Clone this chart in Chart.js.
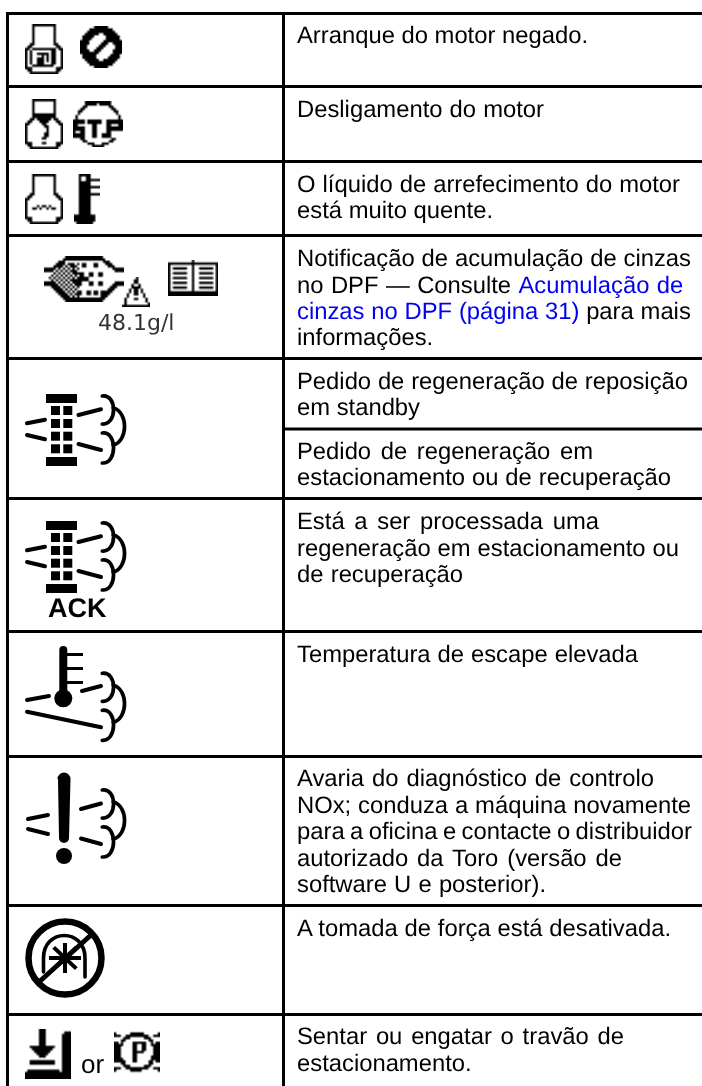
<!DOCTYPE html>
<html>
<head>
<meta charset="utf-8">
<style>
body { margin: 0; background: #fff; }
canvas { display: block; }
</style>
<script src="https://cdn.jsdelivr.net/npm/chart.js@4"></script>
</head>
<body>
<canvas id="table" width="702" height="1086"></canvas>
<script>
// table rules
var columnEdges = [7, 283];
var rowRules = [13, 86, 161, 235, 358, 498, 631, 756, 905, 1014];
var splitRuleY = [429, 429];
var splitRuleX = [283, 702];

// right column text, one entry per printed line
var lineTexts = [
  'Arranque do motor negado.',
  'Desligamento do motor',
  'O líquido de arrefecimento do motor',
  'está muito quente.',
  'Notificação de acumulação de cinzas',
  'no DPF — Consulte Acumulação de',
  'cinzas no DPF (página 31) para mais',
  'informações.',
  'Pedido de regeneração de reposição',
  'em standby',
  'Pedido de regeneração em',
  'estacionamento ou de recuperação',
  'Está a ser processada uma',
  'regeneração em estacionamento ou',
  'de recuperação',
  'Temperatura de escape elevada',
  'Avaria do diagnóstico de controlo',
  'NOx; conduza a máquina novamente',
  'para a oficina e contacte o distribuidor',
  'autorizado da Toro (versão de',
  'software U e posterior).',
  'A tomada de força está desativada.',
  'Sentar ou engatar o travão de',
  'estacionamento.'
];
var lineBaselines = [43,117,192,218,266,293,319,345,389,415,459,485,529,556,582,662,786,813,839,866,892,936,1044,1071];
var lineEnds = [588,544,680,493,691,682,691,432,688,420,593,671,599,679,463,638,654,691,692,622,546,671,624,472];
var linkLines = [5, 6];
var linkTexts = ['Acumulação de', 'cinzas no DPF (página 31)'];

// icons in the left column
var iconX = [44, 101, 44, 98, 44, 87, 84, 136, 193, 76, 76, 76, 76, 65, 48, 137];
var iconY = [49, 47, 124, 124, 199, 199, 279, 292, 278, 430, 557, 694, 818, 958, 1054, 1052];
var iconLabels = ['48.1g/l', 'ACK', 'or'];
var iconLabelX = [98, 48, 81];
var iconLabelY = [330, 617, 1073];

function fr(c, x, y, w, h) { c.fillRect(x, y, w, h); }

// draw on a tiny canvas, cut to 1 bit, then blow it up so it looks like the display bitmaps
function pixIcon(w, h, draw) {
  var low = document.createElement('canvas');
  low.width = w; low.height = h;
  var c = low.getContext('2d');
  c.fillStyle = '#000'; c.strokeStyle = '#000';
  draw(c);
  var img = c.getImageData(0, 0, w, h);
  for (var i = 0; i < img.data.length; i += 4) {
    var on = img.data[i + 3] >= 110;
    img.data[i] = img.data[i + 1] = img.data[i + 2] = 0;
    img.data[i + 3] = on ? 255 : 0;
  }
  c.putImageData(img, 0, 0);
  var big = document.createElement('canvas');
  big.width = Math.round(w * 7 / 6) * 2;
  big.height = Math.round(h * 7 / 6) * 2;
  var b = big.getContext('2d');
  b.imageSmoothingEnabled = true;
  b.drawImage(low, 0, 0, big.width, big.height);
  return big;
}

function vecIcon(w, h, ox, oy, draw) {
  var cv = document.createElement('canvas');
  cv.width = w; cv.height = h;
  var c = cv.getContext('2d');
  c.translate(-ox, -oy);
  c.fillStyle = '#000'; c.strokeStyle = '#000';
  c.lineCap = 'round';
  draw(c);
  return cv;
}

function bottle(c) {
  fr(c, 3, 0, 10, 1); fr(c, 3, 0, 1, 8); fr(c, 12, 0, 1, 8);
  fr(c, 2, 8, 2, 1); fr(c, 12, 8, 2, 1);
  fr(c, 1, 9, 2, 1); fr(c, 13, 9, 2, 1);
  fr(c, 0, 10, 2, 1); fr(c, 14, 10, 2, 1);
  fr(c, 0, 10, 1, 9); fr(c, 15, 10, 1, 9);
  fr(c, 1, 18, 2, 2); fr(c, 13, 18, 2, 2);
  fr(c, 2, 20, 12, 1);
}

var icons = [
  pixIcon(16, 21, function (c) {
    bottle(c);
    fr(c, 3, 10, 9, 1); fr(c, 2, 11, 1, 6); fr(c, 11, 10, 2, 7); fr(c, 3, 17, 9, 1);
    fr(c, 5, 12, 5, 1); fr(c, 9, 12, 1, 4); fr(c, 5, 14, 3, 3); fr(c, 7, 13, 1, 2);
  }),
  pixIcon(18, 18, function (c) {
    c.lineWidth = 3.2;
    c.beginPath(); c.arc(9, 9, 7.4, 0, Math.PI * 2); c.stroke();
    c.lineWidth = 2.6;
    c.beginPath(); c.moveTo(4, 14); c.lineTo(14, 4); c.stroke();
  }),
  pixIcon(16, 21, function (c) {
    bottle(c);
    fr(c, 4, 6, 8, 2); fr(c, 5, 8, 6, 1); fr(c, 6, 9, 4, 1); fr(c, 7, 10, 2, 1);
    fr(c, 8, 11, 2, 1); fr(c, 9, 12, 1, 2); fr(c, 8, 14, 2, 2); fr(c, 7, 16, 2, 1); fr(c, 7, 18, 2, 1);
  }),
  pixIcon(21, 20, function (c) {
    c.lineWidth = 1.1;
    c.beginPath(); c.arc(10.5, 10, 9.4, 0, Math.PI * 2); c.stroke();
    fr(c, 5, 0, 11, 1);
    fr(c, 0, 8, 5, 8); c.clearRect(2, 10, 3, 1); c.clearRect(1, 13, 2, 1);
    fr(c, 6, 8, 6, 2); fr(c, 8, 8, 2, 8);
    fr(c, 12, 14, 2, 2);
    fr(c, 14, 8, 7, 8); c.clearRect(16, 10, 3, 1); c.clearRect(16, 13, 5, 3);
  }),
  pixIcon(16, 21, function (c) {
    bottle(c);
    fr(c, 3, 14, 2, 1); fr(c, 5, 13, 1, 1); fr(c, 6, 14, 1, 1); fr(c, 7, 13, 2, 1);
    fr(c, 9, 14, 1, 1); fr(c, 10, 13, 1, 1); fr(c, 11, 14, 2, 1);
  }),
  pixIcon(11, 21, function (c) {
    fr(c, 2, 0, 5, 17); c.clearRect(3, 1, 2, 2);
    fr(c, 7, 2, 4, 1); fr(c, 7, 5, 4, 1); fr(c, 7, 8, 4, 1);
    fr(c, 0, 17, 9, 3); fr(c, 1, 20, 7, 1);
  }),
  pixIcon(34, 20, function (c) {
    c.lineWidth = 1.6;
    c.beginPath(); c.moveTo(0, 6); c.lineTo(3, 6); c.lineTo(10, 1); c.lineTo(24, 1); c.lineTo(31, 6); c.lineTo(34, 6); c.stroke();
    c.beginPath(); c.moveTo(0, 12); c.lineTo(3, 12); c.lineTo(10, 19); c.lineTo(24, 19); c.lineTo(31, 12); c.lineTo(34, 12); c.stroke();
    for (var y = 3; y < 18; y++) {
      for (var x = 9 - Math.min(y, 18 - y) + 1; x < 15; x++) {
        if ((x + y) % 2) fr(c, x, y, 1, 1);
      }
    }
    [[11, 3], [16, 3], [21, 3], [12, 6], [15, 7], [19, 7], [23, 7], [14, 11], [19, 11], [23, 11], [14, 15], [18, 15], [21, 15], [24, 15]].forEach(function (d) { fr(c, d[0], d[1], 2, 2); });
    fr(c, 15, 9, 4, 2); fr(c, 12, 10, 4, 2);
  }),
  pixIcon(12, 13, function (c) {
    // thin triangle, set pixel by pixel so it does not clog up
    for (var i = 0; i < 12; i++) {
      var half = i / 2.2;
      fr(c, Math.round(5.5 - half), i, 1, 1);
      fr(c, Math.round(5.5 + half), i, 1, 1);
    }
    fr(c, 0, 12, 12, 1);
    fr(c, 5, 4, 2, 4); fr(c, 5, 9, 2, 1);
  }),
  pixIcon(21, 15, function (c) {
    fr(c, 0, 1, 10, 1); fr(c, 11, 1, 10, 1); fr(c, 0, 1, 1, 14); fr(c, 20, 1, 1, 14);
    fr(c, 10, 0, 1, 15); fr(c, 0, 13, 21, 2);
    for (var y = 3; y < 12; y += 2) {
      fr(c, 2, y, 6, 1); fr(c, 13, y, 6, 1);
    }
  }),
  // exhaust request
  exhaustIcon(),
  exhaustIcon(),
  // high exhaust temperature
  vecIcon(106, 100, 23, 644, function (c) {
    c.lineWidth = 8; c.beginPath(); c.moveTo(63.3, 650); c.lineTo(63.3, 696); c.stroke();
    c.beginPath(); c.arc(63.3, 698.3, 9, 0, Math.PI * 2); c.fill();
    fr(c, 67, 653, 16, 3); fr(c, 67, 667, 16, 3); fr(c, 67, 681, 16, 3);
    c.lineWidth = 4;
    seg(c, 27, 700, 49, 696); seg(c, 27, 711.7, 101, 727.3); seg(c, 82, 691, 101, 686);
    clouds(c, 102.3, 673.3);
  }),
  // NOx fault
  vecIcon(106, 96, 23, 770, function (c) {
    c.beginPath();
    c.moveTo(58, 779);
    c.arc(64, 779, 6.5, Math.PI, 0);
    c.lineTo(69, 838); c.arc(64, 838, 5, 0, Math.PI); c.closePath(); c.fill();
    c.beginPath(); c.arc(64, 856, 8, 0, Math.PI * 2); c.fill();
    c.lineWidth = 4;
    seg(c, 28, 819, 48, 815); seg(c, 28, 829, 48, 834); seg(c, 81, 809, 101, 803.5); seg(c, 81, 838.5, 101, 844);
    clouds(c, 102.3, 790);
  }),
  // PTO off
  vecIcon(84, 84, 23, 916, function (c) {
    c.lineWidth = 6.5;
    c.beginPath(); c.arc(65, 958, 36.5, 0, Math.PI * 2); c.stroke();
    c.lineWidth = 3.6;
    c.beginPath(); c.moveTo(43.5, 972); c.lineTo(43.5, 958); c.bezierCurveTo(43.5, 928, 85, 928, 85, 958); c.lineTo(85, 977); c.stroke();
    c.lineWidth = 4; c.lineCap = 'butt';
    for (var i = 0; i < 8; i++) {
      var a = i * Math.PI / 4;
      seg(c, 65, 958, 65 + Math.cos(a) * 16, 958 + Math.sin(a) * 15);
    }
    c.strokeStyle = '#000'; c.lineWidth = 5; c.lineCap = 'round';
    seg(c, 39, 982, 91, 935);
  }),
  // seat
  pixIcon(20, 21, function (c) {
    fr(c, 6, 0, 3, 7); fr(c, 2, 7, 11, 1); fr(c, 3, 8, 9, 1); fr(c, 4, 9, 7, 1); fr(c, 5, 10, 5, 1); fr(c, 6, 11, 3, 1);
    fr(c, 2, 13, 11, 2);
    fr(c, 1, 17, 14, 1); fr(c, 0, 18, 20, 3);
    fr(c, 17, 1, 3, 1); fr(c, 16, 2, 4, 16);
  }),
  // parking
  pixIcon(20, 19, function (c) {
    c.lineWidth = 1.5;
    c.beginPath(); c.arc(10, 9.5, 7.7, 0, Math.PI * 2); c.stroke();
    fr(c, 8, 5, 2, 9); fr(c, 8, 5, 5, 1); fr(c, 12, 5, 2, 4); fr(c, 8, 9, 5, 1);
    fr(c, 0, 5, 2, 9); fr(c, 18, 5, 2, 9);
    fr(c, 1, 2, 2, 1); fr(c, 17, 2, 2, 1); fr(c, 1, 16, 2, 1); fr(c, 17, 16, 2, 1);
    fr(c, 0, 1, 1, 2); fr(c, 19, 1, 1, 2); fr(c, 0, 16, 1, 2); fr(c, 19, 16, 1, 2);
  })
];

function seg(c, x1, y1, x2, y2) {
  c.beginPath(); c.moveTo(x1, y1); c.lineTo(x2, y2); c.stroke();
}

function clouds(c, x, y) {
  c.lineWidth = 3.7;
  c.beginPath(); c.moveTo(x, y); c.bezierCurveTo(x + 15, y - 2, x + 15, y + 29, x, y + 28); c.stroke();
  c.beginPath(); c.moveTo(x, y + 37); c.bezierCurveTo(x + 15, y + 35, x + 15, y + 68, x, y + 67); c.stroke();
  c.beginPath(); c.moveTo(x + 11, y + 12); c.bezierCurveTo(x + 26, y + 16, x + 26, y + 45, x + 11, y + 49); c.stroke();
}

function exhaustIcon() {
  return vecIcon(106, 76, 23, 392, function (c) {
    fr(c, 46, 394, 31, 9); fr(c, 46, 457, 31, 9);
    [51, 63.3].forEach(function (x) {
      [406, 419, 431.7, 444.3].forEach(function (y) { fr(c, x, y, 9, 9); });
    });
    c.lineWidth = 4;
    seg(c, 27, 423.3, 45, 419.7); seg(c, 27, 435, 45, 439.3);
    seg(c, 78.5, 415, 101, 409.3); seg(c, 78.5, 444, 101, 450);
    clouds(c, 102.3, 396);
  });
}

function gridTicks(values) {
  return function (axis) {
    axis.ticks = values.map(function (v) { return { value: v }; });
  };
}

// right column text and the small labels next to the icons
var tableText = {
  id: 'tableText',
  afterDatasetsDraw: function (chart) {
    var c = chart.ctx, xs = chart.scales.x, ys = chart.scales.y;
    var left = xs.getPixelForValue(297);
    c.save();
    c.textBaseline = 'alphabetic';
    c.textRendering = 'geometricPrecision';
    c.font = '23.8px "Liberation Sans"';
    lineTexts.forEach(function (text, i) {
      var y = ys.getPixelForValue(lineBaselines[i]);
      var spaces = text.split(' ').length - 1;
      c.wordSpacing = '0px';
      var extra = spaces ? (xs.getPixelForValue(lineEnds[i]) - left - c.measureText(text).width) / spaces : 0;
      c.wordSpacing = extra + 'px';
      var x = left, link = linkLines.indexOf(i) >= 0 ? linkTexts[linkLines.indexOf(i)] : null;
      var parts = link ? text.split(link) : [text];
      parts.forEach(function (part, p) {
        c.fillStyle = '#000';
        c.fillText(part, x, y);
        x += c.measureText(part).width;
        if (link && p < parts.length - 1) {
          c.fillStyle = '#0000f0';
          c.fillText(link, x, y);
          x += c.measureText(link).width;
        }
      });
    });
    c.wordSpacing = '0px';
    c.fillStyle = '#333';
    c.font = '22px "DejaVu Sans"';
    c.fillText(iconLabels[0], xs.getPixelForValue(iconLabelX[0]), ys.getPixelForValue(iconLabelY[0]));
    c.fillStyle = '#000';
    c.font = 'bold 27px "Liberation Sans"';
    c.fillText(iconLabels[1], xs.getPixelForValue(iconLabelX[1]), ys.getPixelForValue(iconLabelY[1]));
    c.font = '26px "Liberation Sans"';
    c.fillText(iconLabels[2], xs.getPixelForValue(iconLabelX[2]), ys.getPixelForValue(iconLabelY[2]));
    c.restore();
  }
};

new Chart(document.getElementById('table'), {
  type: 'scatter',
  data: {
    datasets: [
      {
        data: iconX.map(function (x, i) { return { x: x, y: iconY[i] }; }),
        pointStyle: icons,
        pointRadius: 1
      },
      {
        type: 'line',
        data: splitRuleX.map(function (x, i) { return { x: x, y: splitRuleY[i] }; }),
        borderColor: '#000',
        borderWidth: 3,
        pointRadius: 0
      }
    ]
  },
  plugins: [tableText],
  options: {
    responsive: false,
    animation: false,
    events: [],
    layout: { autoPadding: false, padding: { left: 6, top: 12, right: 0, bottom: 0 } },
    plugins: { legend: { display: false }, tooltip: { enabled: false } },
    scales: {
      x: {
        type: 'linear', min: 6, max: 702,
        afterBuildTicks: gridTicks(columnEdges),
        ticks: { display: false },
        border: { display: false },
        grid: { color: '#000', lineWidth: 3, drawTicks: false }
      },
      y: {
        type: 'linear', reverse: true, min: 12, max: 1086,
        afterBuildTicks: gridTicks(rowRules),
        ticks: { display: false },
        border: { display: false },
        grid: { color: '#000', lineWidth: 3, drawTicks: false }
      }
    }
  }
});
</script>
</body>
</html>
